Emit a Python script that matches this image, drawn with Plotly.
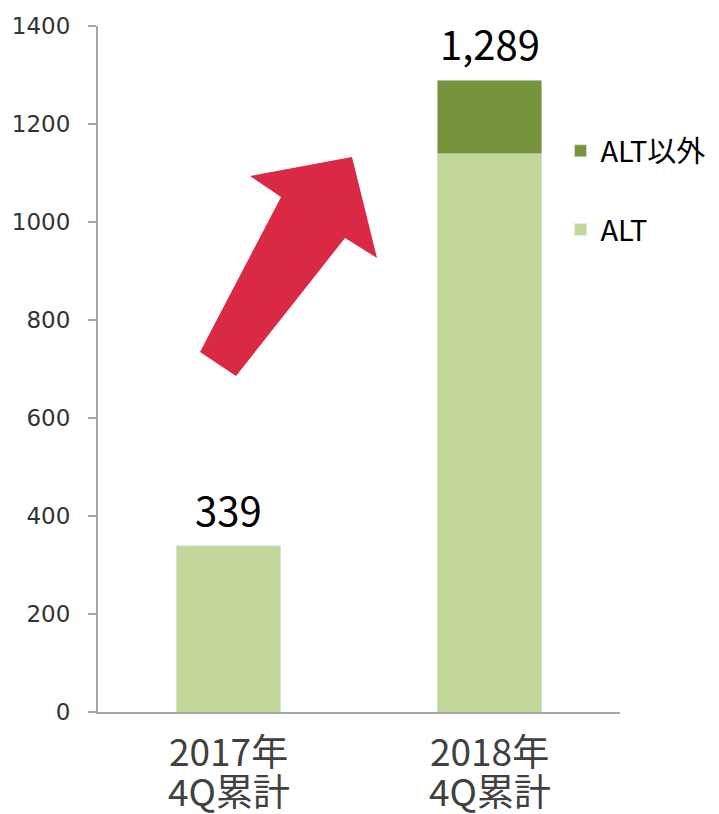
import plotly.graph_objects as go

categories = ["2017年<br>4Q累計", "2018年<br>4Q累計"]
alt_values = [339, 1139]
other_values = [0, 150]
totals = [339, 1289]
y_ticks = [0, 200, 400, 600, 800, 1000, 1200, 1400]

ALT_COLOR = "#C4D79B"
OTHER_COLOR = "#77933C"
ARROW_COLOR = "#D92944"
AXIS_COLOR = "#A6A6A6"

fig = go.Figure()
fig.add_trace(go.Bar(x=categories, y=alt_values, name="ALT", marker_color=ALT_COLOR,
                     width=0.4, legendgroup="a", legendrank=2))
fig.add_trace(go.Bar(x=categories, y=other_values, name="ALT以外", marker_color=OTHER_COLOR,
                     width=0.4, legendgroup="b", legendrank=1))

for c, t in zip(categories, totals):
    fig.add_annotation(x=c, y=t, text=f"{t:,}", showarrow=False, yanchor="bottom",
                       yshift=6, font=dict(size=40, color="#000000",
                                           family="Noto Sans CJK JP"))

# category labels, one annotation per line for tighter line spacing
for c in categories:
    for i, line in enumerate(c.split("<br>")):
        fig.add_annotation(x=c, y=0, yref="paper", text=line, showarrow=False,
                           yanchor="middle", yshift=-38 - 40 * i,
                           font=dict(size=37, color="#404040", family="Noto Sans CJK JP"))

# decorative arrow (paper coordinates)
pts = [(0.4866, 0.8090), (0.5345, 0.6618), (0.4732, 0.6910), (0.2644, 0.4898),
       (0.1954, 0.5248), (0.3506, 0.7507), (0.2912, 0.7813)]
path = "M " + " L ".join(f"{x},{y}" for x, y in pts) + " Z"
fig.add_shape(type="path", path=path, xref="paper", yref="paper",
              fillcolor=ARROW_COLOR, line=dict(width=0), layer="above")

# page body has an 8px margin, so the figure is 8px smaller and margins shifted
fig.update_layout(
    width=711, height=806,
    margin=dict(l=90, r=99, t=18, b=102, autoexpand=False),
    barmode="stack",
    plot_bgcolor="white", paper_bgcolor="white",
    font=dict(family="Noto Sans CJK JP", color="#404040"),
    showlegend=True,
    legend=dict(x=0.886, y=0.855, xanchor="left", yanchor="top",
                traceorder="grouped", tracegroupgap=38,
                font=dict(size=29, color="#000000", family="Noto Sans CJK JP"),
                bgcolor="rgba(0,0,0,0)"),
)
fig.update_xaxes(range=[-0.5, 1.5], showline=True, linecolor=AXIS_COLOR, linewidth=2,
                 ticks="", showticklabels=False, showgrid=False, automargin=False)
fig.update_yaxes(range=[0, 1400], tickvals=y_ticks, showline=True, linecolor=AXIS_COLOR,
                 linewidth=2, ticks="outside", ticklen=8, tickcolor=AXIS_COLOR, tickwidth=2,
                 tickfont=dict(size=23, color="#333333", family="DejaVu Sans"),
                 showgrid=False, zeroline=False, ticklabelstandoff=13, automargin=False)

fig.write_html("out.html")
